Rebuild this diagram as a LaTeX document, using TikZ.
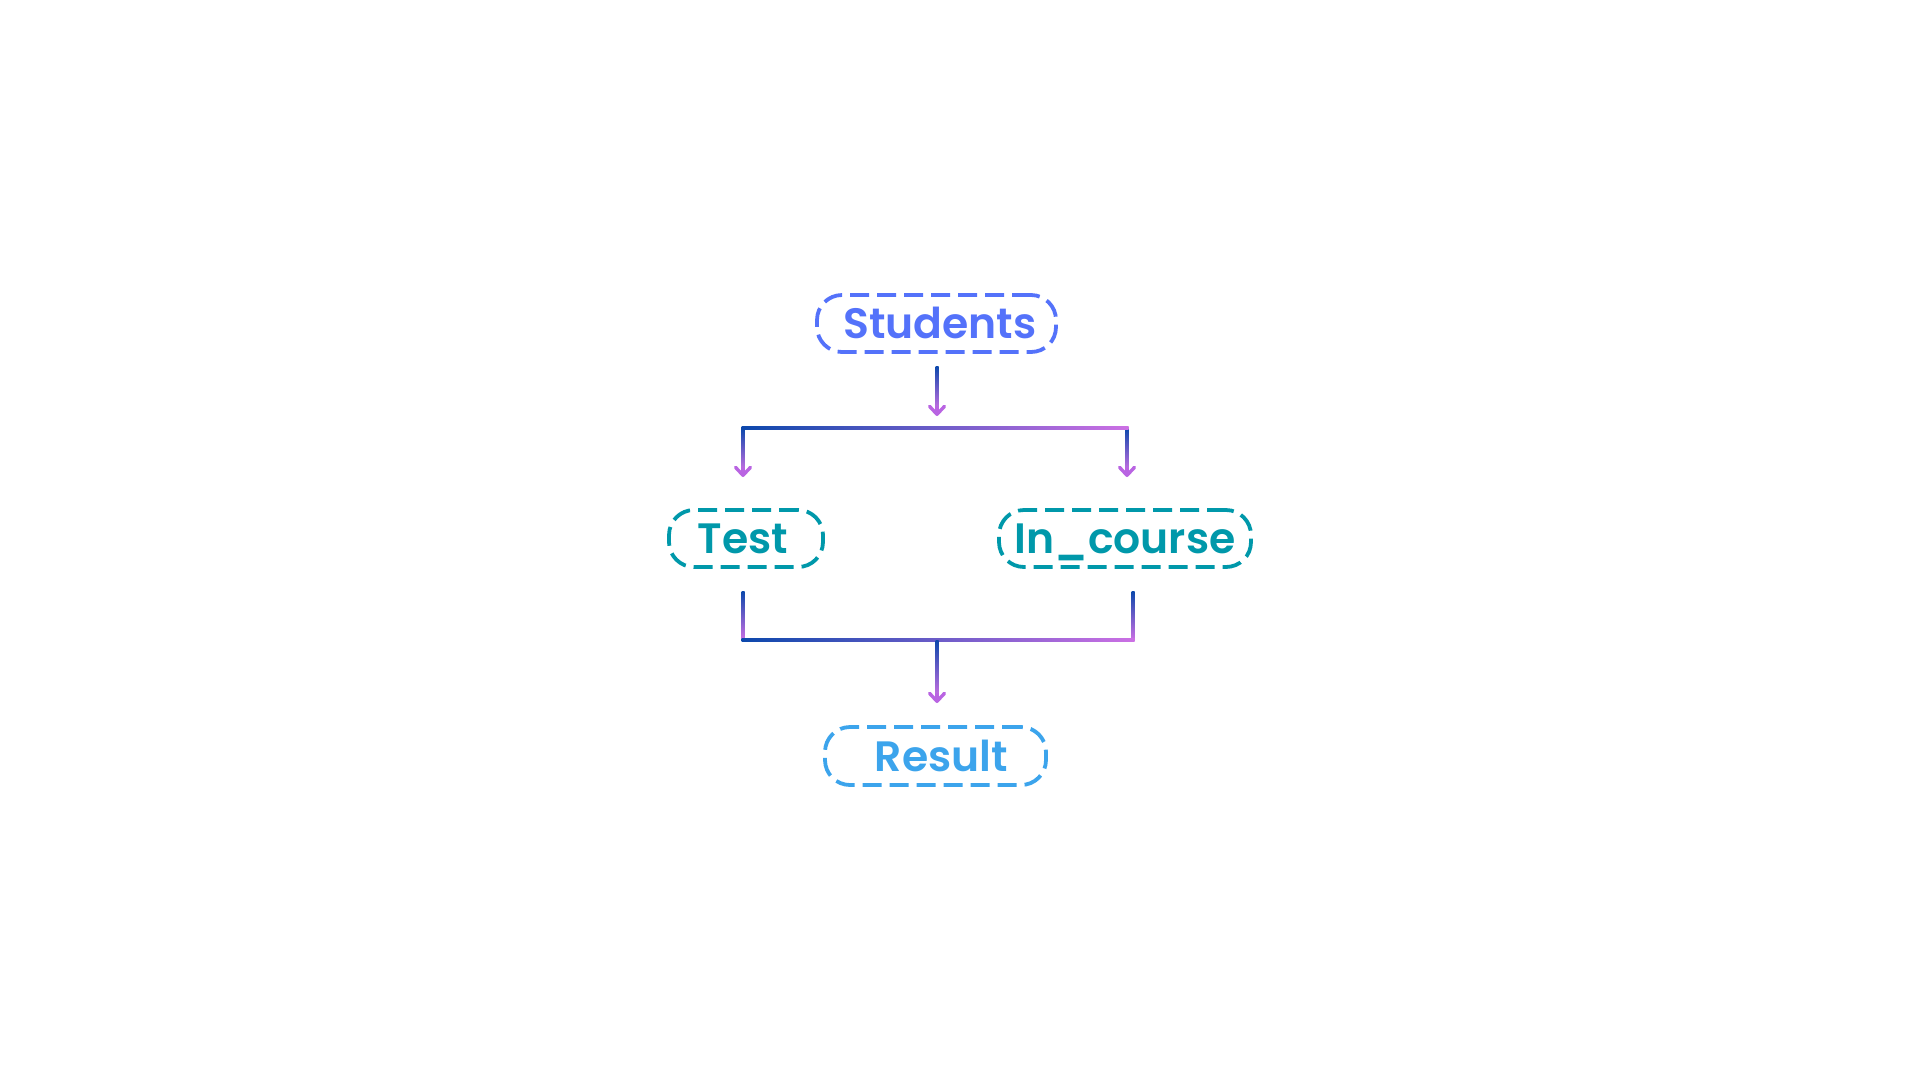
\documentclass[tikz,border=0pt]{standalone}
\usepackage{fontspec}
\setmainfont{Poppins}
\newfontfamily\popsb{Poppins SemiBold}
\usetikzlibrary{arrows.meta,calc}
\definecolor{cstud}{RGB}{84,114,250}
\definecolor{cteal}{RGB}{0,152,170}
\definecolor{cres}{RGB}{60,164,236}
\definecolor{gA}{RGB}{12,72,172}
\definecolor{gB}{RGB}{204,112,228}
\definecolor{tipc}{RGB}{185,100,226}
\newcommand{\vgrad}[2]{\shade[top color=gA,bottom color=gB] ($(#1)+(-1.5,0)$) rectangle ($(#2)+(1.5,0)$);}
\newcommand{\hgrad}[2]{\shade[left color=gA,right color=gB] ($(#1)+(-1.5,-1.5)$) rectangle ($(#2)+(1.5,1.5)$);}
\begin{document}
\begin{tikzpicture}[x=1pt,y=-1pt,
  box/.style={draw, line width=3.8pt, dash pattern=on 19pt off 8pt, rounded corners=25pt,
    minimum height=57pt, inner sep=0pt, text height=30pt, text depth=0pt,
    font=\fontsize{42.5}{48}\popsb},
  tipline/.style={draw=tipc, line width=3.4pt, -{Straight Barb[length=8pt,width=15pt,round]}}
]
\useasboundingbox (0,0) rectangle (1920,1080);

\node[box, draw=cstud, text=cstud, minimum width=239pt] (students) at (936.5,323.5) {\hspace*{7pt}Students};
\node[box, draw=cteal, text=cteal, minimum width=154pt] (test) at (746,538.5) {Test\hspace*{6pt}};
\node[box, draw=cteal, text=cteal, minimum width=252pt] (incourse) at (1125,538.5) {In\_course};
\node[box, draw=cres, text=cres, minimum width=221pt, minimum height=58pt] (result) at (935.5,756) {\hspace*{12pt}Result};

% junction coordinates
\coordinate (a0) at (937,366);
\coordinate (a1) at (937,416);
\coordinate (b0) at (743,428);
\coordinate (b1) at (1127,428);
\coordinate (t0) at (743,477);
\coordinate (t1) at (1127,477);
\coordinate (c0) at (743,591);
\coordinate (c1) at (743,640);
\coordinate (d0) at (1133,591);
\coordinate (d1) at (1133,640);
\coordinate (e0) at (937,640);
\coordinate (e1) at (937,703);

% Students -> split
\vgrad{a0}{$(a1)+(0,-5)$}
\draw[tipline] ($(a1)+(0,-10)$) -- (a1);
% split bar and branches
\vgrad{b0}{$(t0)+(0,-5)$}
\draw[tipline] ($(t0)+(0,-10)$) -- (t0);
\vgrad{b1}{$(t1)+(0,-5)$}
\draw[tipline] ($(t1)+(0,-10)$) -- (t1);
\hgrad{b0}{b1}

% merge
\vgrad{c0}{c1}
\vgrad{d0}{d1}
\hgrad{c1}{d1}
\vgrad{e0}{$(e1)+(0,-5)$}
\draw[tipline] ($(e1)+(0,-10)$) -- (e1);
\end{tikzpicture}
\end{document}
